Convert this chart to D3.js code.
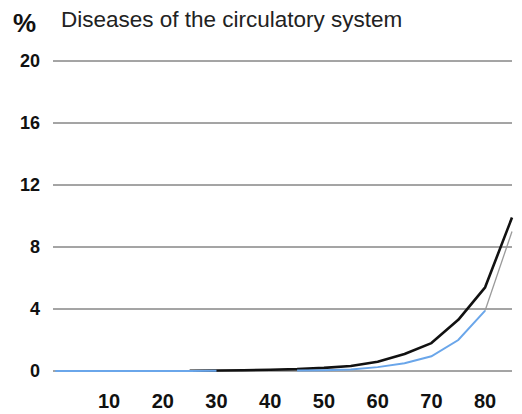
<!DOCTYPE html>
<html><head><meta charset="utf-8">
<script src="https://cdn.jsdelivr.net/npm/d3@7"></script>
<style>html,body{margin:0;padding:0;background:#fff;}</style>
</head><body>
<svg id="c" width="522" height="414"></svg>
<script>
const ages = [0,5,10,15,20,25,30,35,40,45,50,55,60,65,70,75,80,85];
const seriesBlack = [0,0,0,0,0.01,0.02,0.03,0.05,0.08,0.12,0.2,0.32,0.6,1.1,1.8,3.3,5.4,9.9];
const seriesBlue  = [0,0,0,0,0,0,0.01,0.01,0.02,0.03,0.05,0.1,0.25,0.5,0.95,2.0,3.9,9.0];
const yTicks = [0,4,8,12,16,20];
const xTicks = [10,20,30,40,50,60,70,80];
const title = "Diseases of the circulatory system";
const unit = "%";

const svg = d3.select("#c");
const x = d3.scaleLinear().domain([0,85]).range([55.3,512]);
const y = d3.scaleLinear().domain([0,20]).range([371,61]);

svg.append("g").selectAll("line").data(yTicks).join("line")
  .attr("x1",53).attr("x2",512)
  .attr("y1",d=>y(d)).attr("y2",d=>y(d))
  .attr("stroke","#4a4a4a").attr("stroke-width",1);

svg.append("g").selectAll("text").data(yTicks).join("text")
  .attr("x",40).attr("y",d=>y(d)).attr("dy","0.36em")
  .attr("text-anchor","end")
  .attr("font-family","Liberation Sans, Arial, sans-serif")
  .attr("font-weight","bold").attr("font-size",18).attr("fill","#111")
  .text(d=>d);

svg.append("g").selectAll("text").data(xTicks).join("text")
  .attr("x",d=>x(d)).attr("y",408)
  .attr("text-anchor","middle")
  .attr("font-family","Liberation Sans, Arial, sans-serif")
  .attr("font-weight","bold").attr("font-size",20).attr("fill","#111")
  .text(d=>d);

svg.append("text").attr("x",13).attr("y",32)
  .attr("font-family","Liberation Sans, Arial, sans-serif")
  .attr("font-weight","bold").attr("font-size",26).attr("fill","#111")
  .text(unit);
svg.append("text").attr("x",61).attr("y",27)
  .attr("font-family","Liberation Sans, Arial, sans-serif")
  .attr("font-size",22.5).attr("fill","#222")
  .text(title);

const blue = ages.map((a,i)=>({a,v:seriesBlue[i]}));
const black = ages.map((a,i)=>({a,v:seriesBlack[i]}));
const line = d3.line().x(d=>x(d.a)).y(d=>y(d.v));

svg.append("path").datum(black.slice(5)).attr("d",line)
  .attr("fill","none").attr("stroke","#111").attr("stroke-width",2.6)
  .attr("stroke-linejoin","round");
svg.append("path").datum(blue.slice(-2)).attr("d",line)
  .attr("fill","none").attr("stroke","#9a9a9a").attr("stroke-width",1.3);
svg.append("path").datum(blue.slice(0,7)).attr("d",line)
  .attr("fill","none").attr("stroke","#6aa6ea").attr("stroke-width",2);
svg.append("path").datum(blue.slice(9,-1)).attr("d",line)
  .attr("fill","none").attr("stroke","#6aa6ea").attr("stroke-width",2);
</script>
</body></html>
